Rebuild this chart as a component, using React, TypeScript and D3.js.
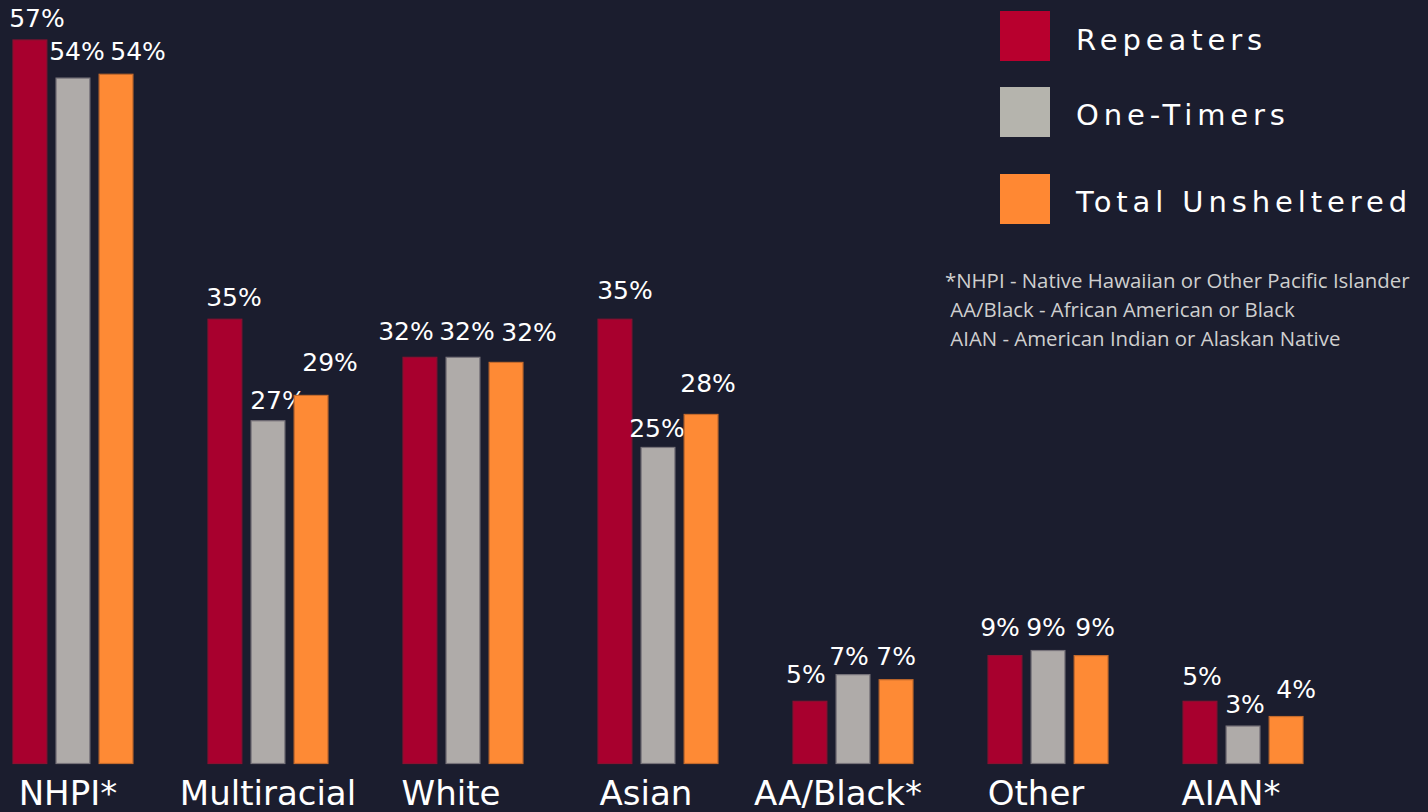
import React from "react";
import * as d3 from "d3";

const categories = ["NHPI*", "Multiracial", "White", "Asian", "AA/Black*", "Other", "AIAN*"];
const seriesNames = ["Repeaters", "One-Timers", "Total Unsheltered"];

const repeaters = [57, 35, 32, 35, 4.9, 8.5, 4.9];
const oneTimers = [54, 27, 32, 24.9, 7, 8.9, 2.95];
const totalUnsheltered = [54.3, 29, 31.6, 27.5, 6.6, 8.5, 3.7];

const repeaterLabels = ["57%", "35%", "32%", "35%", "5%", "9%", "5%"];
const oneTimerLabels = ["54%", "27%", "32%", "25%", "7%", "9%", "3%"];
const totalLabels = ["54%", "29%", "32%", "28%", "7%", "9%", "4%"];

const footnotes = [
  "*NHPI - Native Hawaiian or Other Pacific Islander",
  " AA/Black - African American or Black",
  " AIAN - American Indian or Alaskan Native",
];

// hand placed value labels in the original: [dx from bar centre, dy from bar top]
const labelNudge = [
  [[7, -13], [9, -13], [-14, -17], [10, -20], [-4, -18], [-5, -20], [2, -16]],
  [[4, -18], [10, -12], [4, -17], [-1, -10], [-4, -10], [-2, -15], [2, -13]],
  [[22, -14], [19, -24], [23, -21], [7, -22], [0, -15], [4, -20], [10, -19]],
];
const catNudge = [-5, 0, -12, -12, -15, -12, -12];

const colors = ["#a8002e", "#afaba9", "#fe8a35"];
const strokes = ["#8a1030", "#77737a", "#c46a2c"];
const legendColors = ["#b8002e", "#b5b4ad", "#ff8833"];

const W = 1428;
const H = 812;
const baseY = 763.5;
const font = "'DejaVu Sans', sans-serif";

export default function App() {
  const values = [repeaters, oneTimers, totalUnsheltered];
  const labels = [repeaterLabels, oneTimerLabels, totalLabels];

  const x0 = d3.scaleBand().domain(categories).range([13, 1303]).paddingInner(0.385);
  const x1 = d3.scaleBand().domain(seriesNames).range([0, x0.bandwidth()]).paddingInner(0.215);
  const y = d3.scaleLinear().domain([0, 57]).range([baseY, 40]);

  const legendY = [11, 87, 174];
  const legendText = [50, 125, 212];

  return (
    <svg
      width={W}
      height={H}
      style={{ position: "absolute", left: 0, top: 0, display: "block" }}
    >
      <rect width={W} height={H} fill="#1b1d2e" />

      {categories.map((cat, ci) => (
        <g key={cat} transform={`translate(${x0(cat)},0)`}>
          {seriesNames.map((s, si) => {
            const v = values[si][ci];
            const bx = x1(s) as number;
            const bw = x1.bandwidth();
            const [dx, dy] = labelNudge[si][ci];
            return (
              <g key={s}>
                <rect
                  x={bx}
                  y={y(v)}
                  width={bw}
                  height={baseY - y(v)}
                  fill={colors[si]}
                  stroke={strokes[si]}
                  strokeWidth={1.2}
                />
                <text
                  x={bx + bw / 2 + dx}
                  y={y(v) + dy}
                  textAnchor="middle"
                  fill="#ffffff"
                  fontFamily={font}
                  fontSize={25}
                >
                  {labels[si][ci]}
                </text>
              </g>
            );
          })}
          <text
            x={x0.bandwidth() / 2 + catNudge[ci]}
            y={805}
            textAnchor="middle"
            fill="#ffffff"
            fontFamily={font}
            fontSize={34}
          >
            {cat}
          </text>
        </g>
      ))}

      {seriesNames.map((s, i) => (
        <g key={s}>
          <rect x={1000} y={legendY[i]} width={50} height={50} fill={legendColors[i]} />
          <text
            x={1076}
            y={legendText[i]}
            fill="#ffffff"
            fontFamily={font}
            fontSize={29}
            letterSpacing={4.9}
          >
            {s}
          </text>
        </g>
      ))}

      {footnotes.map((t, i) => (
        <text
          key={i}
          x={945}
          y={288 + i * 29}
          fill="#cfcfcf"
          fontFamily="'Open Sans', sans-serif"
          fontSize={20.4}
          style={{ whiteSpace: "pre" }}
        >
          {t}
        </text>
      ))}
    </svg>
  );
}
